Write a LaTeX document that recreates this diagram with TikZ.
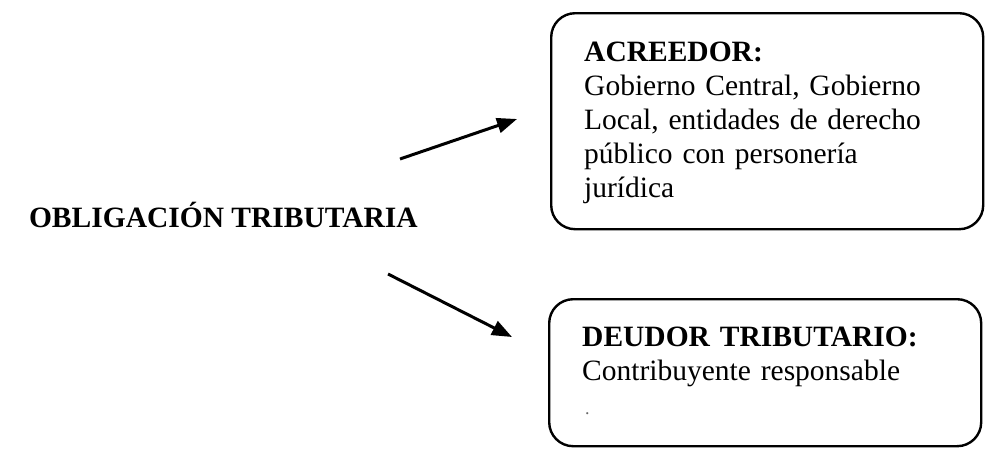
\documentclass[tikz,border=0pt]{standalone}
\usepackage{fontspec}
\setmainfont{Liberation Serif}
\usetikzlibrary{arrows.meta}
\begin{document}
\begin{tikzpicture}[x=1pt,y=1pt,
  infobox/.style={draw=black, line width=2.4pt, rounded corners=24pt, anchor=north west,
    text width=366pt, inner xsep=33pt, inner ysep=0pt, align=left, text height=48pt,
    font=\fontsize{29.5pt}{34pt}\selectfont},
  flowarrow/.style={line width=3pt, -{Triangle[length=20pt,width=15pt]}},
  titletext/.style={font=\fontsize{29.5pt}{34pt}\selectfont\bfseries, anchor=base east, inner sep=0pt}]
\useasboundingbox (0,0) rectangle (985,-448);
\node[infobox, text depth=168pt] (acreedor) at (550,-12)
  {\textbf{ACREEDOR:}\\Gobierno Central, Gobierno\\Local, entidades de derecho\\público con personería\\jurídica};
\node[infobox, text height=47pt, text depth=100pt] (deudor) at (548,-298)
  {\textbf{DEUDOR TRIBUTARIO:}\\Contribuyente responsable\\{\fontsize{18pt}{18pt}\selectfont\color{black!60}\,.}};
\node[titletext] (obligacion) at (418,-227) {OBLIGACIÓN TRIBUTARIA};
\coordinate (a1s) at (400,-159);
\coordinate (a1e) at (517,-119);
\coordinate (a2s) at (388,-274);
\coordinate (a2e) at (512,-337);
\draw[flowarrow] (a1s) -- (a1e);
\draw[flowarrow] (a2s) -- (a2e);
\end{tikzpicture}
\end{document}
